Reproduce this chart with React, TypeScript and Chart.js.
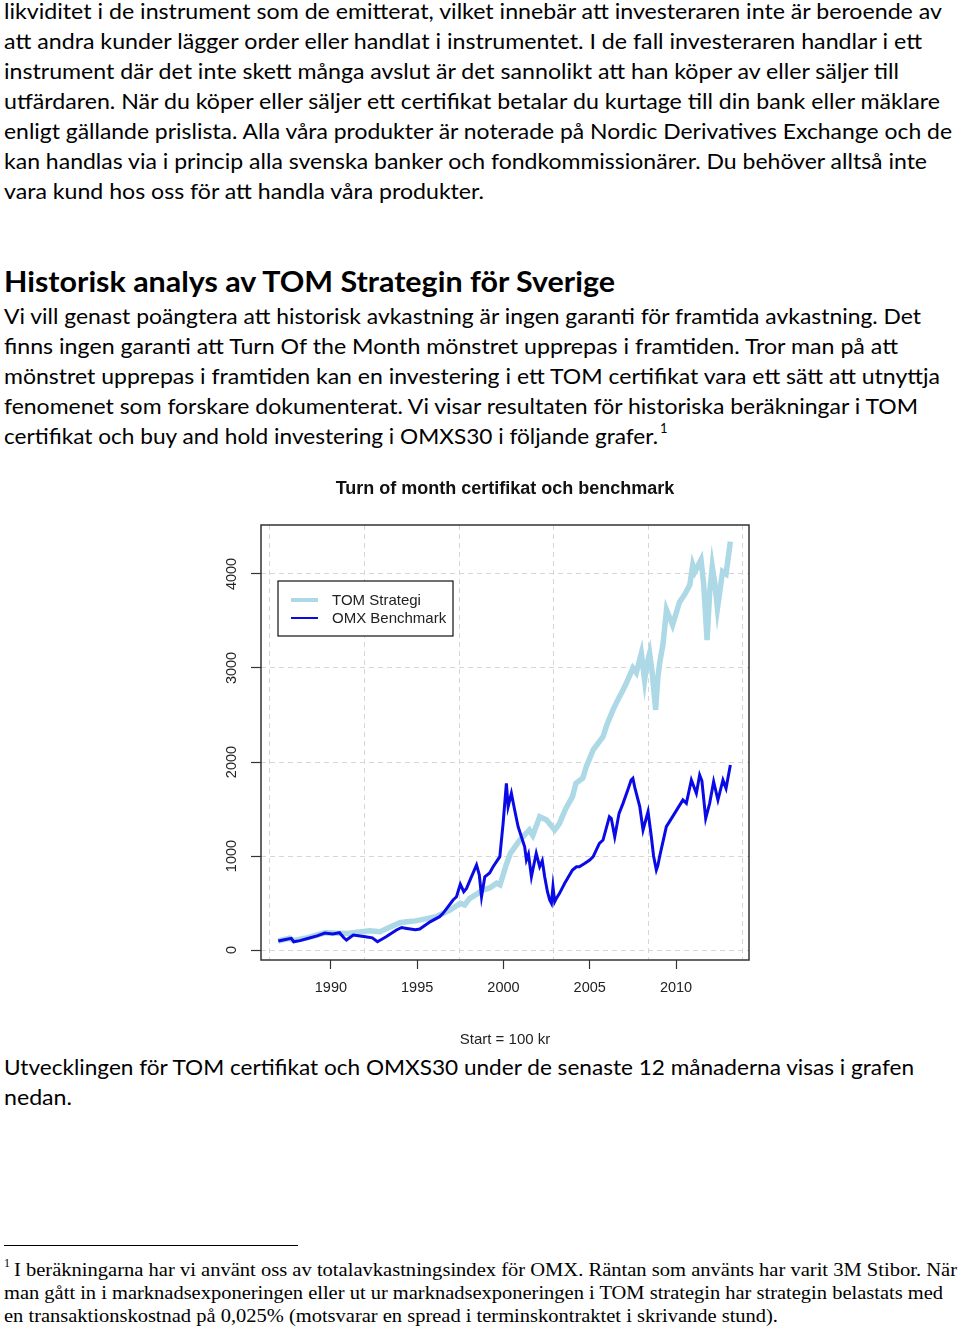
import React, { useEffect, useRef } from "react";
import { Chart, registerables } from "chart.js";

Chart.register(...registerables);

// ---------- page text ----------
const para1Lines = [
  "likviditet i de instrument som de emitterat, vilket innebär att investeraren inte är beroende av",
  "att andra kunder lägger order eller handlat i instrumentet. I de fall investeraren handlar i ett",
  "instrument där det inte skett många avslut är det sannolikt att han köper av eller säljer till",
  "utfärdaren. När du köper eller säljer ett certifikat betalar du kurtage till din bank eller mäklare",
  "enligt gällande prislista. Alla våra produkter är noterade på Nordic Derivatives Exchange och de",
  "kan handlas via i princip alla svenska banker och fondkommissionärer. Du behöver alltså inte",
  "vara kund hos oss för att handla våra produkter.",
];
const para1Widths = [938, 918, 895, 936, 948, 923, 480];
const headingText = "Historisk analys av TOM Strategin för Sverige";
const para2Lines = [
  "Vi vill genast poängtera att historisk avkastning är ingen garanti för framtida avkastning. Det",
  "finns ingen garanti att Turn Of the Month mönstret upprepas i framtiden. Tror man på att",
  "mönstret upprepas i framtiden kan en investering i ett TOM certifikat vara ett sätt att utnyttja",
  "fenomenet som forskare dokumenterat. Vi visar resultaten för historiska beräkningar i TOM",
  "certifikat och buy and hold investering i OMXS30 i följande grafer.",
];
const para2Widths = [917, 894, 936, 914, 654];
const para3Lines = [
  "Utvecklingen för TOM certifikat och OMXS30 under de senaste 12 månaderna visas i grafen",
  "nedan.",
];
const para3Widths = [910, 68];
const footLines = [
  "I beräkningarna har vi använt oss av totalavkastningsindex för OMX. Räntan som använts har varit 3M Stibor. När",
  "man gått in i marknadsexponeringen eller ut ur marknadsexponeringen i TOM strategin har strategin belastats med",
  "en transaktionskostnad på 0,025% (motsvarar en spread i terminskontraktet i skrivande stund).",
];
const footWidths = [943, 939, 774];

// ---------- chart data ----------
const chartTitle = "Turn of month certifikat och benchmark";
const xAxisTitle = "Start = 100 kr";
const seriesNames = ["OMX Benchmark", "TOM Strategi"];
const xTickYears = [1990, 1995, 2000, 2005, 2010];
const yTickValues = [0, 1000, 2000, 3000, 4000];
const gridYears = [1986.47, 1991.95, 1997.43, 2002.9, 2008.38, 2013.86];

const omxYears = [
  1986.95, 1987.3, 1987.7, 1987.85, 1988.2, 1988.7, 1989.2, 1989.65, 1990.1, 1990.5,
  1990.75, 1990.9, 1991.3, 1991.7, 1992.0, 1992.4, 1992.7, 1993.2, 1993.8, 1994.1,
  1994.4, 1994.9, 1995.15, 1995.75, 1996.3, 1996.5, 1997.08, 1997.28, 1997.5, 1997.7,
  1997.86, 1998.1, 1998.44, 1998.6, 1998.73, 1998.92, 1999.2, 1999.4, 1999.79, 1999.98,
  2000.17, 2000.27, 2000.46, 2000.65, 2000.85, 2001.05, 2001.23, 2001.33, 2001.45, 2001.62,
  2001.9, 2002.1, 2002.25, 2002.39, 2002.55, 2002.68, 2002.78, 2002.87, 2002.97, 2003.1,
  2003.25, 2003.55, 2004.0, 2004.23, 2004.4, 2004.7, 2005.0, 2005.2, 2005.56, 2005.77,
  2006.14, 2006.25, 2006.45, 2006.7, 2006.93, 2007.2, 2007.4, 2007.5, 2007.6, 2007.9,
  2008.09, 2008.38, 2008.57, 2008.7, 2008.86, 2008.95, 2009.05, 2009.44, 2009.92, 2010.4,
  2010.6, 2010.89, 2011.18, 2011.37, 2011.5, 2011.72, 2011.95, 2012.18, 2012.43, 2012.72,
  2012.9, 2013.15,
];
const omxValues = [
  96, 110, 124, 88, 100, 125, 150, 180, 170, 184,
  130, 106, 160, 150, 142, 130, 88, 142, 213, 240,
  230, 215, 223, 300, 355, 390, 532, 567, 700, 620,
  656, 760, 905, 800, 567, 780, 820, 886, 993, 1348,
  1773, 1525, 1667, 1490, 1312, 1200, 1099, 958, 1020, 780,
  1029, 886, 950, 780, 620, 532, 497, 673, 514, 560,
  603, 710, 851, 886, 886, 920, 958, 993, 1135, 1170,
  1418, 1400, 1205, 1454, 1560, 1700, 1809, 1827, 1738, 1525,
  1277, 1472, 1205, 1000, 851, 900, 993, 1312, 1454, 1596,
  1560, 1809, 1667, 1862, 1800, 1401, 1560, 1791, 1596, 1809,
  1720, 1968,
];

const tomYears = [
  1986.95, 1987.6, 1987.85, 1988.5, 1989.2, 1989.7, 1990.2, 1990.6, 1991.0, 1991.5,
  1992.25, 1992.85, 1993.5, 1994.0, 1994.4, 1994.9, 1995.35, 1996.1, 1996.9, 1997.5,
  1997.75, 1998.05, 1998.5, 1998.8, 1999.2, 1999.6, 1999.8, 2000.15, 2000.4, 2000.95,
  2001.5, 2001.7, 2002.1, 2002.5, 2002.97, 2003.25, 2003.6, 2004.0, 2004.2, 2004.6,
  2004.8, 2005.2, 2005.77, 2006.0, 2006.35, 2006.6, 2006.93, 2007.12, 2007.5, 2007.7,
  2007.99, 2008.18, 2008.3, 2008.47, 2008.62, 2008.82, 2008.95, 2009.05, 2009.25, 2009.45,
  2009.6, 2009.8, 2010.2, 2010.5, 2010.8, 2010.97, 2011.1, 2011.45, 2011.6, 2011.8,
  2011.95, 2012.1, 2012.25, 2012.4, 2012.7, 2012.9, 2013.15,
];
const tomValues = [
  96, 125, 100, 125, 160, 185, 180, 178, 175, 190,
  205, 195, 250, 290, 301, 310, 326, 355, 426, 497,
  480, 550, 600, 638, 660, 710, 692, 900, 1029, 1170,
  1277, 1220, 1418, 1383, 1277, 1348, 1500, 1631, 1773, 1830,
  1950, 2128, 2270, 2400, 2554, 2650, 2766, 2837, 3000, 2950,
  3156, 2873, 3032, 3156, 2950, 2554, 2900, 3050, 3260, 3618,
  3550, 3458, 3700, 3780, 3884, 4096, 4025, 4150, 3900, 3298,
  3800, 4080, 3900, 3635, 4025, 4000, 4344,
];

const X_MIN = 1985.95;
const X_MAX = 2014.23;
const Y_MIN = -106;
const Y_MAX = 4521;

const TOM_COLOR = "#add8e6";
const OMX_COLOR = "#0a0ae6";
const AXIS_FONT = "Liberation Sans";

const frameAndLegend = {
  id: "frameAndLegend",
  afterDraw(chart: any) {
    const { ctx, chartArea: a } = chart;
    ctx.save();
    ctx.strokeStyle = "#333";
    ctx.lineWidth = 1.5;
    ctx.strokeRect(a.left, a.top, a.right - a.left, a.bottom - a.top);

    const lx = a.left + 17;
    const ly = a.top + 56;
    const w = 175;
    const h = 55;
    ctx.fillStyle = "#fff";
    ctx.fillRect(lx, ly, w, h);
    ctx.strokeStyle = "#111";
    ctx.lineWidth = 1.2;
    ctx.strokeRect(lx, ly, w, h);

    const entries = [
      { name: seriesNames[1], color: TOM_COLOR, width: 4, y: ly + 19 },
      { name: seriesNames[0], color: OMX_COLOR, width: 2, y: ly + 37 },
    ];
    ctx.font = `15px "${AXIS_FONT}"`;
    ctx.textBaseline = "middle";
    ctx.textAlign = "left";
    for (const e of entries) {
      ctx.beginPath();
      ctx.strokeStyle = e.color;
      ctx.lineWidth = e.width;
      ctx.moveTo(lx + 13, e.y);
      ctx.lineTo(lx + 40, e.y);
      ctx.stroke();
      ctx.fillStyle = "#222";
      ctx.fillText(e.name, lx + 54, e.y + 1);
    }
    ctx.restore();
  },
};

function TomChart() {
  const ref = useRef<HTMLCanvasElement | null>(null);
  useEffect(() => {
    if (!ref.current) return;
    const chart = new Chart(ref.current, {
      type: "line",
      data: {
        datasets: [
          {
            label: seriesNames[0],
            data: omxYears.map((x, i) => ({ x, y: omxValues[i] })),
            borderColor: OMX_COLOR,
            borderWidth: 3,
            pointRadius: 0,
            tension: 0,
            xAxisID: "x",
            yAxisID: "y",
          },
          {
            label: seriesNames[1],
            data: tomYears.map((x, i) => ({ x, y: tomValues[i] })),
            borderColor: TOM_COLOR,
            borderWidth: 5.5,
            pointRadius: 0,
            tension: 0,
            xAxisID: "x",
            yAxisID: "y",
          },
        ],
      },
      options: {
        responsive: false,
        animation: false,
        layout: { padding: { left: 0, right: 0, top: 0, bottom: 5 } },
        plugins: {
          legend: { display: false },
          tooltip: { enabled: false },
          title: {
            display: true,
            text: chartTitle,
            color: "#111",
            font: { family: AXIS_FONT, size: 18, weight: "bold", lineHeight: 1.2 },
            padding: { top: 13, bottom: 0 },
          },
        },
        scales: {
          x: {
            type: "linear",
            position: "bottom",
            min: X_MIN,
            max: X_MAX,
            afterBuildTicks: (s: any) => {
              s.ticks = xTickYears.map((v) => ({ value: v }));
            },
            afterFit: (s: any) => {
              s.height = 100;
            },
            grid: {
              display: true,
              drawOnChartArea: false,
              drawTicks: true,
              tickLength: 9,
              tickColor: "#333",
              tickWidth: 1.2,
            },
            border: { display: false },
            ticks: {
              autoSkip: false,
              maxRotation: 0,
              padding: 10,
              color: "#222",
              font: { family: AXIS_FONT, size: 14.5 },
              callback: (v: any) => String(v),
            },
            title: {
              display: true,
              text: xAxisTitle,
              color: "#222",
              font: { family: AXIS_FONT, size: 15 },
              padding: { top: 0, bottom: 11 },
            },
          },
          x2: {
            type: "linear",
            position: "top",
            min: X_MIN,
            max: X_MAX,
            afterBuildTicks: (s: any) => {
              s.ticks = gridYears.map((v) => ({ value: v }));
            },
            afterFit: (s: any) => {
              s.height = 25.4;
            },
            grid: { display: true, color: "#d6d6d6", lineWidth: 1, drawTicks: false },
            border: { display: false, dash: [5, 4] },
            ticks: { display: false },
          },
          y: {
            type: "linear",
            position: "left",
            min: Y_MIN,
            max: Y_MAX,
            afterBuildTicks: (s: any) => {
              s.ticks = yTickValues.map((v) => ({ value: v }));
            },
            afterFit: (s: any) => {
              s.width = 61;
            },
            grid: {
              display: true,
              color: "#d6d6d6",
              lineWidth: 1,
              drawTicks: true,
              tickLength: 10,
              tickColor: "#333",
              tickWidth: 1.2,
            },
            border: { display: false, dash: [5, 4] },
            ticks: {
              minRotation: 90,
              maxRotation: 90,
              crossAlign: "center",
              padding: 3,
              color: "#222",
              font: { family: AXIS_FONT, size: 14.5 },
              callback: (v: any) => String(v),
            },
          },
          y2: {
            type: "linear",
            position: "right",
            min: Y_MIN,
            max: Y_MAX,
            afterFit: (s: any) => {
              s.width = 61;
            },
            grid: { display: false },
            border: { display: false },
            ticks: { display: false },
          },
        },
      } as any,
      plugins: [frameAndLegend],
    });
    return () => chart.destroy();
  }, []);
  return (
    <canvas
      ref={ref}
      width={610}
      height={600}
      style={{ position: "absolute", left: 200, top: 465, width: 610, height: 600 }}
    />
  );
}

const BODY_FONT = "Lato, 'Open Sans', sans-serif";

function Line({ x, y, w, text, size, weight, family }: any) {
  return (
    <text
      x={x}
      y={y}
      textLength={w}
      lengthAdjust="spacingAndGlyphs"
      fontFamily={family || BODY_FONT}
      fontSize={size}
      fontWeight={weight || 400}
      fill="#000"
    >
      {text}
    </text>
  );
}

export default function App() {
  return (
    <div
      style={{
        position: "absolute",
        left: 0,
        top: 0,
        width: 960,
        height: 1330,
        background: "#fff",
        overflow: "hidden",
      }}
    >
      <svg
        width={960}
        height={1330}
        style={{ position: "absolute", left: 0, top: 0 }}
      >
        {para1Lines.map((t, i) => (
          <Line key={"p1" + i} x={4} y={19 + i * 30} w={para1Widths[i]} text={t} size={21.5} />
        ))}
        <Line x={4} y={292} w={611} text={headingText} size={28} weight={700} />
        {para2Lines.map((t, i) => (
          <Line key={"p2" + i} x={4} y={324 + i * 30} w={para2Widths[i]} text={t} size={21.5} />
        ))}
        <text x={660} y={433} fontFamily={BODY_FONT} fontSize={13} fill="#000">
          1
        </text>
        {para3Lines.map((t, i) => (
          <Line key={"p3" + i} x={4} y={1075 + i * 30} w={para3Widths[i]} text={t} size={21.5} />
        ))}
        <line x1={4} y1={1245.5} x2={298} y2={1245.5} stroke="#000" strokeWidth={1} />
        <text x={4} y={1267} fontFamily="'Liberation Serif', serif" fontSize={12} fill="#000">
          1
        </text>
        {footLines.map((t, i) => (
          <Line
            key={"f" + i}
            x={i === 0 ? 14 : 4}
            y={1276 + i * 23}
            w={footWidths[i]}
            text={t}
            size={19}
            family="'Liberation Serif', serif"
          />
        ))}
      </svg>
      <TomChart />
    </div>
  );
}
